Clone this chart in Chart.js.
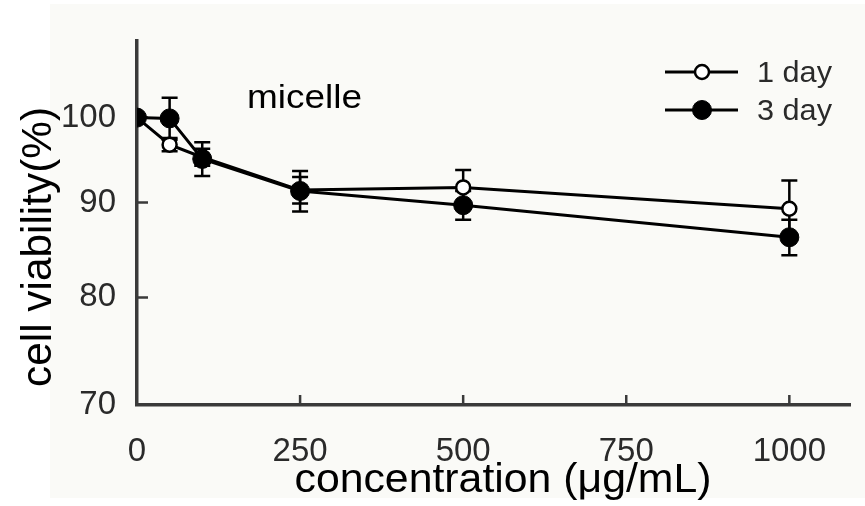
<!DOCTYPE html>
<html>
<head>
<meta charset="utf-8">
<script src="https://cdn.jsdelivr.net/npm/chart.js@4/dist/chart.umd.min.js"></script>
<style>
    html, body { margin: 0; padding: 0; background: #ffffff; }
    #wrap { width: 865px; height: 506px; }
</style>
</head>
<body>
<div id="wrap"><canvas id="chart" width="865" height="506"></canvas></div>
<script>
const concentrations = [0, 50, 100, 250, 500, 1000];
const oneDay = [100, 96.7, 95.2, 91.4, 91.7, 89.3];
const oneDayErr = [0, 0.8, 1.0, 1.5, 2.0, 3.2];
const threeDay = [100, 99.9, 95.0, 91.3, 89.7, 86.2];
const threeDayErr = [0, 2.6, 2.0, 2.3, 1.6, 1.9];
const xTicks = [0, 250, 500, 750, 1000];
const yTicks = [70, 80, 90, 100];

const fontFamily = "'Liberation Sans', Arial, sans-serif";
const axisColor = "#3a3a3a";
const labelColor = "#2a2a2a";

function drawStretched(ctx, text, x, y, size, width, color, align) {
    ctx.save();
    ctx.font = `${size}px ${fontFamily}`;
    ctx.fillStyle = color;
    ctx.textBaseline = "alphabetic";
    const natural = ctx.measureText(text).width;
    ctx.translate(x, y);
    ctx.scale(width / natural, 1);
    ctx.textAlign = align || "left";
    ctx.fillText(text, 0, 0);
    ctx.restore();
}

const decorPlugin = {
    id: "decor",
    beforeDraw(chart) {
        const { ctx } = chart;
        ctx.save();
        ctx.fillStyle = "#fafaf7";
        ctx.fillRect(50, 4, 815, 494);
        ctx.restore();
    },
    beforeDatasetsDraw(chart) {
        const { ctx, scales } = chart;
        ctx.save();
        ctx.strokeStyle = "#000000";
        ctx.lineWidth = 2.5;
        chart.data.datasets.forEach((ds) => {
            ds.data.forEach((point, i) => {
                const err = ds.errors[i];
                if (!err) return;
                const x = scales.x.getPixelForValue(point.x);
                const top = scales.y.getPixelForValue(point.y + err);
                const bottom = scales.y.getPixelForValue(point.y - err);
                ctx.beginPath();
                ctx.moveTo(x, top);
                ctx.lineTo(x, bottom);
                ctx.moveTo(x - 8, top);
                ctx.lineTo(x + 8, top);
                ctx.moveTo(x - 8, bottom);
                ctx.lineTo(x + 8, bottom);
                ctx.stroke();
            });
        });
        // inward tick marks
        const area = chart.chartArea;
        ctx.strokeStyle = axisColor;
        ctx.lineWidth = 2.5;
        ctx.beginPath();
        yTicks.slice(1).forEach((v) => {
            const y = scales.y.getPixelForValue(v);
            ctx.moveTo(area.left, y);
            ctx.lineTo(area.left + 11, y);
        });
        xTicks.slice(1).forEach((v) => {
            const x = scales.x.getPixelForValue(v);
            ctx.moveTo(x, area.bottom);
            ctx.lineTo(x, area.bottom - 10);
        });
        ctx.stroke();
        ctx.restore();
    },
    afterDraw(chart) {
        const { ctx } = chart;
        drawStretched(ctx, "micelle", 247, 108, 33, 115, "#000000");
        drawStretched(ctx, "concentration (\u03bcg/mL)", 503, 492, 41, 417, "#000000", "center");
        ctx.save();
        ctx.translate(51, 247);
        ctx.rotate(-Math.PI / 2);
        drawStretched(ctx, "cell viability(%)", 0, 0, 42, 280, "#000000", "center");
        ctx.restore();

        // legend
        const rows = [72, 110];
        chart.data.datasets.forEach((ds, i) => {
            const y = rows[i];
            ctx.save();
            ctx.strokeStyle = ds.borderColor;
            ctx.lineWidth = ds.borderWidth;
            ctx.beginPath();
            ctx.moveTo(665, y);
            ctx.lineTo(738, y);
            ctx.stroke();
            ctx.beginPath();
            ctx.arc(702, y, ds.pointRadius, 0, Math.PI * 2);
            ctx.fillStyle = ds.pointBackgroundColor;
            ctx.fill();
            ctx.lineWidth = ds.pointBorderWidth;
            ctx.strokeStyle = ds.pointBorderColor;
            ctx.stroke();
            ctx.restore();
            drawStretched(ctx, ds.label, 757, y + 10, 30, 75, labelColor);
        });
    }
};

new Chart(document.getElementById("chart"), {
    type: "line",
    data: {
        datasets: [
            {
                label: "1 day",
                data: concentrations.map((c, i) => ({ x: c, y: oneDay[i] })),
                errors: oneDayErr,
                borderColor: "#000000",
                borderWidth: 3,
                pointRadius: 7,
                pointBorderWidth: 2.5,
                pointBackgroundColor: "#ffffff",
                pointBorderColor: "#000000",
                order: 1
            },
            {
                label: "3 day",
                data: concentrations.map((c, i) => ({ x: c, y: threeDay[i] })),
                errors: threeDayErr,
                borderColor: "#000000",
                borderWidth: 3,
                pointRadius: 9.5,
                pointBorderWidth: 1,
                pointBackgroundColor: "#000000",
                pointBorderColor: "#000000",
                order: 0
            }
        ]
    },
    options: {
        responsive: false,
        animation: false,
        layout: { padding: { top: 31, right: 15, left: 0, bottom: 0 } },
        plugins: { legend: { display: false }, tooltip: { enabled: false } },
        scales: {
            x: {
                type: "linear",
                min: 0,
                max: 1093,
                afterBuildTicks: (axis) => { axis.ticks = xTicks.map((v) => ({ value: v })); },
                afterFit: (scale) => { scale.height = 101; },
                grid: { display: false, drawTicks: false },
                border: { display: true, color: axisColor, width: 3.5 },
                ticks: { color: labelColor, padding: 27, font: { size: 33, family: fontFamily }, maxRotation: 0, callback: (v) => v }
            },
            y: {
                type: "logarithmic",
                min: 70,
                max: 110,
                afterBuildTicks: (axis) => { axis.ticks = yTicks.map((v) => ({ value: v })); },
                afterFit: (scale) => { scale.width = 137; },
                grid: { display: false, drawTicks: false },
                border: { display: true, color: axisColor, width: 3.5 },
                ticks: { color: labelColor, padding: 21, font: { size: 33, family: fontFamily }, callback: (v) => v }
            }
        }
    },
    plugins: [decorPlugin]
});
</script>
</body>
</html>
